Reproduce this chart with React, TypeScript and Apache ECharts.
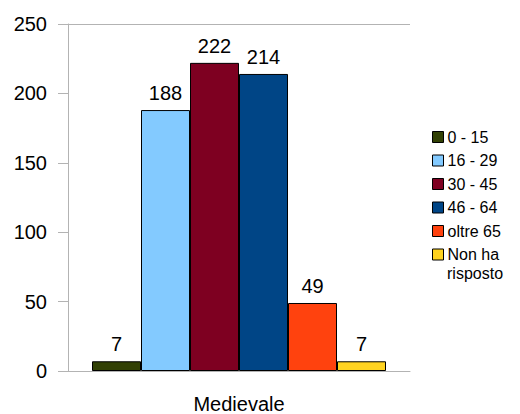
import React, { useEffect, useRef } from "react";
import * as echarts from "echarts";

const categories = ["Medievale"];
const seriesNames = ["0 - 15", "16 - 29", "30 - 45", "46 - 64", "oltre 65", "Non ha risposto"];
const seriesValues = [7, 188, 222, 214, 49, 7];
const seriesColors = ["#314004", "#83caff", "#7e0021", "#004586", "#ff420e", "#ffd320"];
const yTicks = [0, 50, 100, 150, 200, 250];

export default function App() {
  const ref = useRef<HTMLDivElement>(null);
  useEffect(() => {
    if (!ref.current) return;
    const chart = echarts.init(ref.current, undefined, { renderer: "svg" });
    const font = "'Liberation Sans', Arial, sans-serif";
    chart.setOption({
      animation: false,
      textStyle: { fontFamily: font },
      grid: { left: 68, right: 110, top: 24, bottom: 42, containLabel: false },
      legend: {
        orient: "vertical",
        left: 427,
        top: 122,
        itemWidth: 11,
        itemHeight: 11,
        itemGap: 3.5,
        icon: "rect",
        data: seriesNames,
        textStyle: { fontSize: 16, lineHeight: 20, color: "#000", fontFamily: font, padding: [0, 0, 0, -1] },
        formatter: (name: string) => (name === "Non ha risposto" ? "Non ha" : name),
        itemStyle: { borderColor: "#000", borderWidth: 1 },
      },
      graphic: [
        {
          type: "text",
          left: 447,
          top: 265,
          silent: true,
          style: { text: "risposto", fontSize: 16, fontFamily: font, fill: "#000" },
        },
      ],
      xAxis: {
        type: "category",
        data: categories,
        axisLine: { lineStyle: { color: "#b3b3b3" } },
        axisTick: { show: false },
        axisLabel: { color: "#000", fontSize: 20, margin: 23, fontFamily: font },
      },
      yAxis: {
        type: "value",
        min: yTicks[0],
        max: yTicks[yTicks.length - 1],
        interval: 50,
        axisLine: { show: true, lineStyle: { color: "#b3b3b3" } },
        axisTick: { show: true, inside: false, length: 10, lineStyle: { color: "#b3b3b3" } },
        axisLabel: { color: "#000", fontSize: 20, margin: 21, fontFamily: font },
        splitLine: {
          show: true,
          lineStyle: { color: ["transparent", "transparent", "transparent", "transparent", "transparent", "#b3b3b3"] },
        },
      },
      series: seriesNames.map((name, i) => ({
        name,
        type: "bar",
        barWidth: 49,
        barGap: "0%",
        data: [seriesValues[i]],
        itemStyle: { color: seriesColors[i], borderColor: "#000", borderWidth: 1 },
        label: {
          show: true,
          position: "top",
          distance: 7,
          color: "#000",
          fontSize: 20,
          fontFamily: font,
        },
      })),
    });
    return () => chart.dispose();
  }, []);
  return <div ref={ref} style={{ width: 520, height: 414, position: "absolute", left: 0, top: 0 }} />;
}
